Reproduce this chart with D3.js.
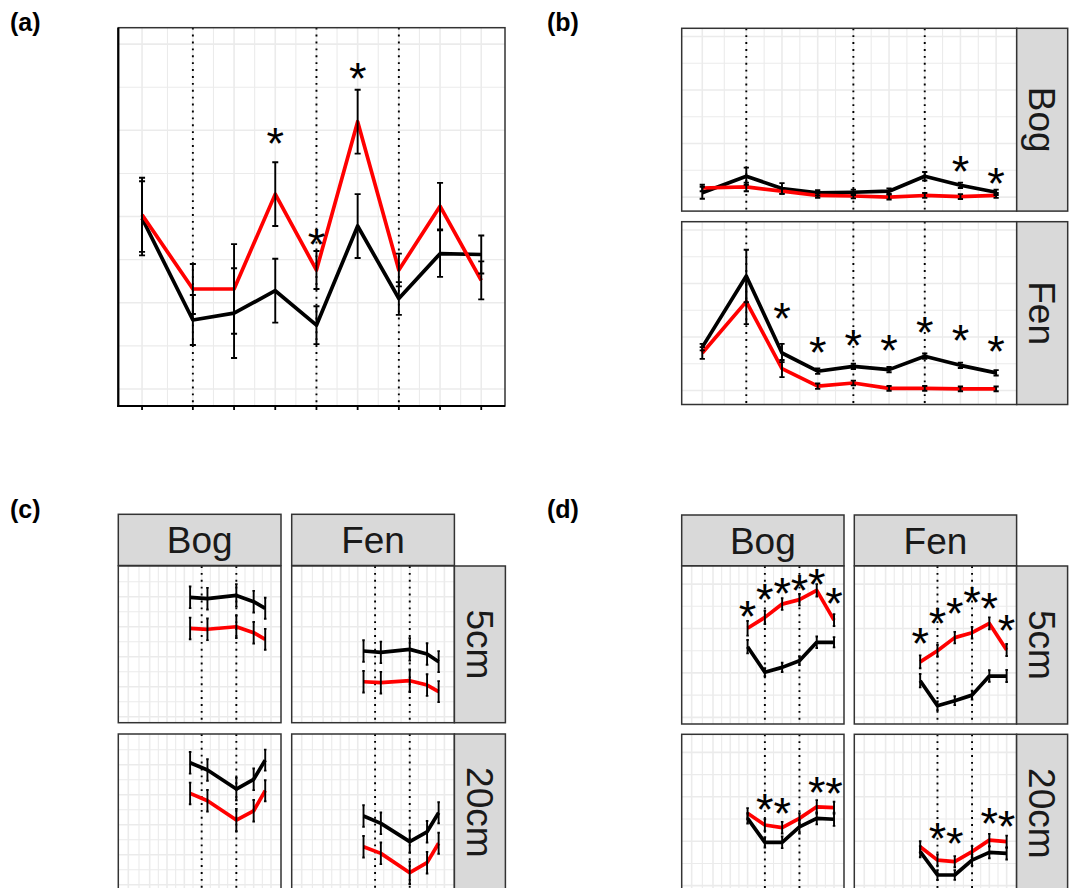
<!DOCTYPE html>
<html><head><meta charset="utf-8">
<script src="https://cdn.jsdelivr.net/npm/d3@7"></script>
<style>
body{margin:0;background:#fff;}
svg{display:block;}
text{font-family:"Liberation Sans",Arial,Helvetica,sans-serif;}
</style>
</head><body>
<svg id="chart" width="1073" height="888"></svg>
<script>
// ---------------- DATA ----------------
const sampleDays = [0, 37, 67, 97, 127, 157, 187, 217, 247];
const xDomainDays = [-17.3, 264.3];
const eventDaysAB = [37, 127, 187];
const eventDaysCD = [127, 187];

// (a)
const aBlack    = [1.98, 0.80, 0.88, 1.14, 0.74, 1.89, 1.05, 1.57, 1.56];
const aRed      = [2.02, 1.16, 1.16, 2.26, 1.38, 3.10, 1.38, 2.12, 1.26];
const aBlackErr = [0.43, 0.29, 0.52, 0.37, 0.22, 0.37, 0.19, 0.27, 0.22];
const aRedErr   = [0.43, 0.29, 0.52, 0.37, 0.22, 0.37, 0.19, 0.27, 0.22];
const aStarDays = [97, 127, 157];
const aStarY    = [2.97, 1.80, 3.72];
const aYGrid    = [0, 0.5, 1, 1.5, 2, 2.5, 3, 3.5, 4];

// (b)
const bFacets = ["Bog", "Fen"];
const bBogBlack    = [0.08, 0.39, 0.16, 0.08, 0.09, 0.11, 0.39, 0.22, 0.09];
const bBogRed      = [0.17, 0.19, 0.11, 0.03, 0.02, 0.00, 0.03, 0.01, 0.03];
const bBogBlackErr = [0.11, 0.16, 0.10, 0.05, 0.05, 0.05, 0.08, 0.05, 0.05];
const bBogRedErr   = [0.06, 0.08, 0.05, 0.045, 0.045, 0.045, 0.045, 0.045, 0.045];
const bFenBlack    = [0.81, 2.14, 0.70, 0.36, 0.45, 0.39, 0.64, 0.47, 0.33];
const bFenRed      = [0.70, 1.66, 0.41, 0.08, 0.14, 0.04, 0.04, 0.03, 0.03];
const bFenBlackErr = [0.06, 0.49, 0.17, 0.05, 0.05, 0.05, 0.05, 0.05, 0.05];
const bFenRedErr   = [0.11, 0.42, 0.16, 0.05, 0.045, 0.045, 0.045, 0.045, 0.045];
const bBogStarDays = [217, 247];
const bBogStarY    = [0.68, 0.45];
const bFenStarDays = [67, 97, 127, 157, 187, 217, 247];
const bFenStarY    = [1.55, 0.91, 1.03, 0.94, 1.28, 1.14, 0.93];
const bYGrid = [0, 0.5, 1, 1.5, 2, 2.5, 3];

// (c)
const cCols = ["Bog", "Fen"];
const cRows = ["5cm", "20cm"];
const cDays = [107, 137, 187, 217, 237];
const cBog5Black  = [7.96, 7.87, 8.09, 7.67, 7.23];
const cBog5Red    = [5.89, 5.83, 6.00, 5.60, 5.16];
const cFen5Black  = [4.38, 4.29, 4.49, 4.18, 3.67];
const cFen5Red    = [2.33, 2.27, 2.40, 2.11, 1.67];
const cBog20Black = [8.13, 7.65, 6.38, 7.03, 8.31];
const cBog20Red   = [6.09, 5.60, 4.31, 4.93, 6.27];
const cFen20Black = [4.58, 4.09, 2.87, 3.53, 4.80];
const cFen20Red   = [2.53, 2.09, 0.80, 1.47, 2.76];
const cErr        = [0.72, 0.72, 0.75, 0.72, 0.70];
const cYGrid = [0, 1, 2, 3, 4, 5, 6, 7, 8, 9];

// (d)
const dDays = [97, 127, 157, 187, 217, 247];
const dBog5Red     = [4.01, 4.50, 5.10, 5.30, 5.72, 4.38];
const dBog5Black   = [3.18, 2.03, 2.25, 2.55, 3.38, 3.38];
const dFen5Red     = [2.50, 3.00, 3.59, 3.81, 4.23, 3.03];
const dFen5Black   = [1.65, 0.52, 0.75, 1.00, 1.86, 1.86];
const dBog20Red    = [3.26, 2.73, 2.61, 3.03, 3.55, 3.51];
const dBog20Black  = [3.03, 1.95, 1.95, 2.65, 3.03, 2.99];
const dFen20Red    = [1.75, 1.15, 1.08, 1.53, 2.05, 1.98];
const dFen20Black  = [1.53, 0.48, 0.48, 1.15, 1.50, 1.45];
const dBog5RedErr   = [0.33, 0.30, 0.26, 0.26, 0.28, 0.27];
const dBog5BlackErr = [0.30, 0.18, 0.21, 0.20, 0.26, 0.23];
const dFen5RedErr   = [0.29, 0.26, 0.26, 0.26, 0.27, 0.27];
const dFen5BlackErr = [0.30, 0.20, 0.20, 0.20, 0.26, 0.27];
const dBog20RedErr   = [0.23, 0.26, 0.26, 0.23, 0.30, 0.27];
const dBog20BlackErr = [0.23, 0.23, 0.26, 0.30, 0.27, 0.30];
const dFen20RedErr   = [0.25, 0.25, 0.25, 0.25, 0.28, 0.27];
const dFen20BlackErr = [0.25, 0.22, 0.22, 0.25, 0.27, 0.27];
const dBog5StarY  = [5.01, 5.77, 6.06, 6.18, 6.48, 5.61];
const dFen5StarY  = [3.81, 4.71, 5.16, 5.63, 5.39, 4.38];
const d20StarDays = [127, 157, 217, 247];
const dBog20StarY = [3.90, 3.71, 4.68, 4.61];
const dFen20StarY = [2.58, 2.36, 3.26, 3.15];
const dYGrid = [0, 1, 2, 3, 4, 5, 6];

const panelLabels = ["(a)", "(b)", "(c)", "(d)"];

// ---------------- STYLE ----------------
const RED = "#ff0000", BLACK = "#000000";
const GRID = "#ebebeb", BORDER = "#333333", STRIPFILL = "#d9d9d9", STRIPTEXT = "#1a1a1a";
const LINEW = 3.7, ERRW = 1.9, CAPDAYS = 2.2;
const STARSIZE = 45, STRIPSIZE = 37;

const svg = d3.select("#chart");

function zip(days, vals, errs) {
  return days.map((d, i) => ({day: d, v: vals[i], e: errs ? errs[i] : 0}));
}

function panel(o) {
  const g = svg.append("g");
  const x = d3.scaleLinear().domain(xDomainDays).range([o.x, o.x + o.w]);
  const y = d3.scaleLinear().domain(o.yDomain).range([o.y + o.h, o.y]);
  g.append("rect").attr("x", o.x).attr("y", o.y).attr("width", o.w).attr("height", o.h).attr("fill", "#fff");
  // grid
  const minorX = d3.pairs(sampleDays).map(([a, b]) => (a + b) / 2);
  g.selectAll(null).data(minorX).join("line")
    .attr("x1", d => x(d)).attr("x2", d => x(d)).attr("y1", o.y).attr("y2", o.y + o.h)
    .attr("stroke", GRID).attr("stroke-width", 1.1);
  g.selectAll(null).data(o.yGrid).join("line")
    .attr("x1", o.x).attr("x2", o.x + o.w).attr("y1", d => y(d)).attr("y2", d => y(d))
    .attr("stroke", GRID).attr("stroke-width", (d, i) => i % 2 === 0 ? 1.6 : 1.1);
  g.selectAll(null).data(sampleDays).join("line")
    .attr("x1", d => x(d)).attr("x2", d => x(d)).attr("y1", o.y).attr("y2", o.y + o.h)
    .attr("stroke", GRID).attr("stroke-width", 1.6);
  // event lines
  g.selectAll(null).data(o.events).join("line")
    .attr("x1", d => x(d)).attr("x2", d => x(d)).attr("y1", o.y).attr("y2", o.y + o.h)
    .attr("stroke", BLACK).attr("stroke-width", 1.9).attr("stroke-dasharray", "1.9 5");
  // lines
  const line = d3.line().x(d => x(d.day)).y(d => y(d.v));
  o.series.forEach(s => {
    g.append("path").datum(s.data).attr("d", line).attr("fill", "none")
      .attr("stroke", s.color).attr("stroke-width", LINEW)
      .attr("stroke-linejoin", "round").attr("stroke-linecap", "butt");
  });
  // error bars
  o.series.forEach(s => {
    g.selectAll(null).data(s.data).join("path")
      .attr("d", d => {
        const xl = x(d.day - CAPDAYS), xr = x(d.day + CAPDAYS), xc = x(d.day);
        const yt = y(d.v + d.e), yb = y(d.v - d.e);
        return `M${xl},${yt}H${xr}M${xc},${yt}V${yb}M${xl},${yb}H${xr}`;
      })
      .attr("fill", "none").attr("stroke", BLACK).attr("stroke-width", ERRW);
  });
  // significance stars
  if (o.stars) {
    g.selectAll(null).data(o.stars).join("text")
      .attr("x", d => x(d.day)).attr("y", d => y(d.v)).attr("dy", "0.58em")
      .attr("text-anchor", "middle").attr("font-size", STARSIZE).attr("fill", BLACK)
      .text("*");
  }
  // border
  g.append("rect").attr("x", o.x).attr("y", o.y).attr("width", o.w).attr("height", o.h)
    .attr("fill", "none").attr("stroke", BORDER).attr("stroke-width", 1.5);
  return {g, x, y};
}

function strip(x0, y0, w, h, label, vertical) {
  const g = svg.append("g");
  g.append("rect").attr("x", x0).attr("y", y0).attr("width", w).attr("height", h)
    .attr("fill", STRIPFILL).attr("stroke", BORDER).attr("stroke-width", 1.5);
  const t = g.append("text").attr("text-anchor", "middle").attr("dy", "0.36em")
    .attr("font-size", STRIPSIZE).attr("fill", STRIPTEXT).text(label);
  if (vertical) t.attr("transform", `translate(${x0 + w / 2},${y0 + h / 2}) rotate(90)`);
  else t.attr("x", x0 + w / 2).attr("y", y0 + h / 2);
}

function stars(days, vals) { return days.map((d, i) => ({day: d, v: vals[i]})); }

// ---------------- (a) ----------------
const A = {x: 118.3, y: 27.7, w: 386.7, h: 378.3};
const pa = panel({
  ...A, yDomain: [-0.197, 4.19], yGrid: aYGrid, events: eventDaysAB,
  series: [
    {color: BLACK, data: zip(sampleDays, aBlack, aBlackErr)},
    {color: RED, data: zip(sampleDays, aRed, aRedErr)}
  ],
  stars: stars(aStarDays, aStarY)
});
// axis lines + ticks (a)
svg.append("line").attr("x1", A.x).attr("x2", A.x).attr("y1", A.y).attr("y2", A.y + A.h + 1)
  .attr("stroke", BLACK).attr("stroke-width", 2.2);
svg.append("line").attr("x1", A.x - 1).attr("x2", A.x + A.w).attr("y1", A.y + A.h).attr("y2", A.y + A.h)
  .attr("stroke", BLACK).attr("stroke-width", 2.2);
svg.selectAll(null).data(sampleDays).join("line")
  .attr("x1", d => pa.x(d)).attr("x2", d => pa.x(d)).attr("y1", A.y + A.h).attr("y2", A.y + A.h + 4)
  .attr("stroke", BLACK).attr("stroke-width", 1.8);

// ---------------- (b) ----------------
const B = {x: 681.7, w: 335, h: 182.8, rows: [28.3, 221.7], strip: 51};
const bData = [
  {black: bBogBlack, red: bBogRed, be: bBogBlackErr, re: bBogRedErr, sd: bBogStarDays, sy: bBogStarY},
  {black: bFenBlack, red: bFenRed, be: bFenBlackErr, re: bFenRedErr, sd: bFenStarDays, sy: bFenStarY}
];
bData.forEach((f, i) => {
  panel({
    x: B.x, y: B.rows[i], w: B.w, h: B.h, yDomain: [-0.262, 3.154], yGrid: bYGrid, events: eventDaysAB,
    series: [
      {color: BLACK, data: zip(sampleDays, f.black, f.be)},
      {color: RED, data: zip(sampleDays, f.red, f.re)}
    ],
    stars: stars(f.sd, f.sy)
  });
  strip(B.x + B.w, B.rows[i], B.strip, B.h, bFacets[i], true);
});

// ---------------- (c) ----------------
const C = {x: 118.3, w: 162.7, gap: 10.7, stripTop: 514.3, stripH: 51.2, rows: [566, 734], h: 156.7, strip: 51};
const cData = [
  [{black: cBog5Black, red: cBog5Red}, {black: cFen5Black, red: cFen5Red}],
  [{black: cBog20Black, red: cBog20Red}, {black: cFen20Black, red: cFen20Red}]
];
cCols.forEach((lab, j) => strip(C.x + j * (C.w + C.gap), C.stripTop, C.w, C.stripH, lab, false));
cRows.forEach((lab, i) => {
  cCols.forEach((c, j) => {
    const f = cData[i][j];
    panel({
      x: C.x + j * (C.w + C.gap), y: C.rows[i], w: C.w, h: C.h, yDomain: [-0.4, 10.05], yGrid: cYGrid,
      events: eventDaysCD,
      series: [
        {color: BLACK, data: zip(cDays, f.black, cErr)},
        {color: RED, data: zip(cDays, f.red, cErr)}
      ]
    });
  });
  strip(C.x + 2 * C.w + C.gap, C.rows[i], C.strip, C.h, lab, true);
});

// ---------------- (d) ----------------
const D = {x: 681.7, w: 162.3, gap: 10.3, stripTop: 515, stripH: 50.8, rows: [566, 734.3], h: 158, strip: 51};
const dData = [
  [{black: dBog5Black, red: dBog5Red, be: dBog5BlackErr, re: dBog5RedErr, sd: dDays, sy: dBog5StarY},
   {black: dFen5Black, red: dFen5Red, be: dFen5BlackErr, re: dFen5RedErr, sd: dDays, sy: dFen5StarY}],
  [{black: dBog20Black, red: dBog20Red, be: dBog20BlackErr, re: dBog20RedErr, sd: d20StarDays, sy: dBog20StarY},
   {black: dFen20Black, red: dFen20Red, be: dFen20BlackErr, re: dFen20RedErr, sd: d20StarDays, sy: dFen20StarY}]
];
cCols.forEach((lab, j) => strip(D.x + j * (D.w + D.gap), D.stripTop, D.w, D.stripH, lab, false));
cRows.forEach((lab, i) => {
  cCols.forEach((c, j) => {
    const f = dData[i][j];
    panel({
      x: D.x + j * (D.w + D.gap), y: D.rows[i], w: D.w, h: D.h, yDomain: [-0.3, 6.815], yGrid: dYGrid,
      events: eventDaysCD,
      series: [
        {color: BLACK, data: zip(dDays, f.black, f.be)},
        {color: RED, data: zip(dDays, f.red, f.re)}
      ],
      stars: stars(f.sd, f.sy)
    });
  });
  strip(D.x + 2 * D.w + D.gap, D.rows[i], D.strip, D.h, lab, true);
});

// ---------------- panel labels ----------------
const labelPos = [[10, 31], [547, 31], [10, 518], [547, 518]];
svg.selectAll(null).data(panelLabels).join("text")
  .attr("x", (d, i) => labelPos[i][0]).attr("y", (d, i) => labelPos[i][1])
  .attr("font-size", 25).attr("font-weight", "bold").attr("fill", BLACK).text(d => d);
</script>
</body></html>
